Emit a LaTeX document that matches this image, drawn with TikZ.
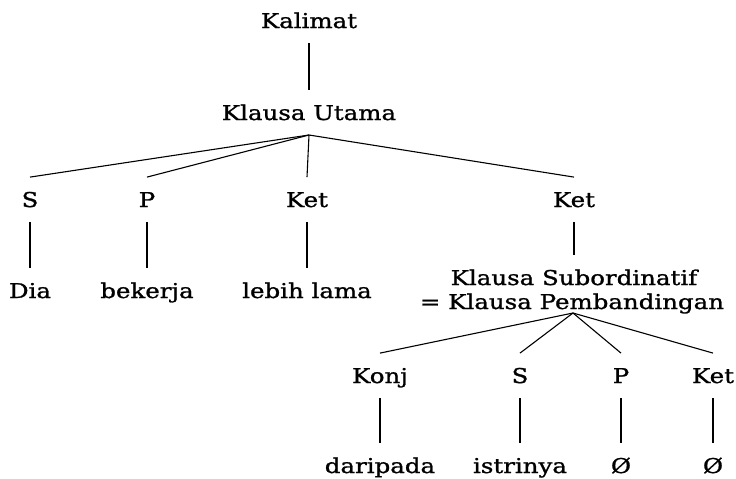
\documentclass[tikz,border=0pt]{standalone}
\usepackage{fontspec}
\setmainfont{DejaVu Serif}[FakeStretch=1.2,FakeBold=1.2]
\begin{document}
\begin{tikzpicture}[x=1pt,y=-1pt,
  lbl/.style={anchor=base,inner sep=0pt,outer ysep=15pt,outer xsep=0pt,
    text height=14.9pt,text depth=0pt,font=\fontsize{20.4}{24}\selectfont},
  edge/.style={line width=1.1pt}]
\useasboundingbox[fill=white] (0,0) rectangle (736,479);
\node[lbl] (kal) at (309,28) {Kalimat};
\node[lbl] (ku) at (309,120) {Klausa Utama};
\node[lbl] (s1) at (30,207) {S};
\node[lbl] (p1) at (147,207) {P};
\node[lbl] (k1) at (307,207) {Ket};
\node[lbl] (k2) at (574,207) {Ket};
\node[lbl] (dia) at (30,298) {Dia};
\node[lbl] (bek) at (147,298) {bekerja};
\node[lbl] (leb) at (307,298) {lebih lama};
\node[lbl] (ks1) at (574,285) {Klausa Subordinatif};
\node[lbl] (ks2) at (572,309) {= Klausa Pembandingan};
\node[lbl] (konj) at (380,383) {Konj};
\node[lbl] (s2) at (520,383) {S};
\node[lbl] (p2) at (621,383) {P};
\node[lbl] (k3) at (713,383) {Ket};
\node[lbl] (dar) at (380,473) {daripada};
\node[lbl] (ist) at (520,473) {istrinya};
\node[lbl] (o1) at (621,473) {Ø};
\node[lbl] (o2) at (713,473) {Ø};
\coordinate (ksb) at ([xshift=1pt,yshift=-4pt]ks2.base);
\draw[edge] (kal.south) -- (ku.north);
\foreach \n in {s1,p1,k1,k2} \draw[edge] (ku.south) -- (\n.north);
\draw[edge] (s1.south) -- (dia.north);
\draw[edge] (p1.south) -- (bek.north);
\draw[edge] (k1.south) -- (leb.north);
\draw[edge] (k2.south) -- (ks1.north);
\foreach \n in {konj,s2,p2,k3} \draw[edge] (ksb) -- (\n.north);
\draw[edge] (konj.south) -- (dar.north);
\draw[edge] (s2.south) -- (ist.north);
\draw[edge] (p2.south) -- (o1.north);
\draw[edge] (k3.south) -- (o2.north);
\end{tikzpicture}
\end{document}
